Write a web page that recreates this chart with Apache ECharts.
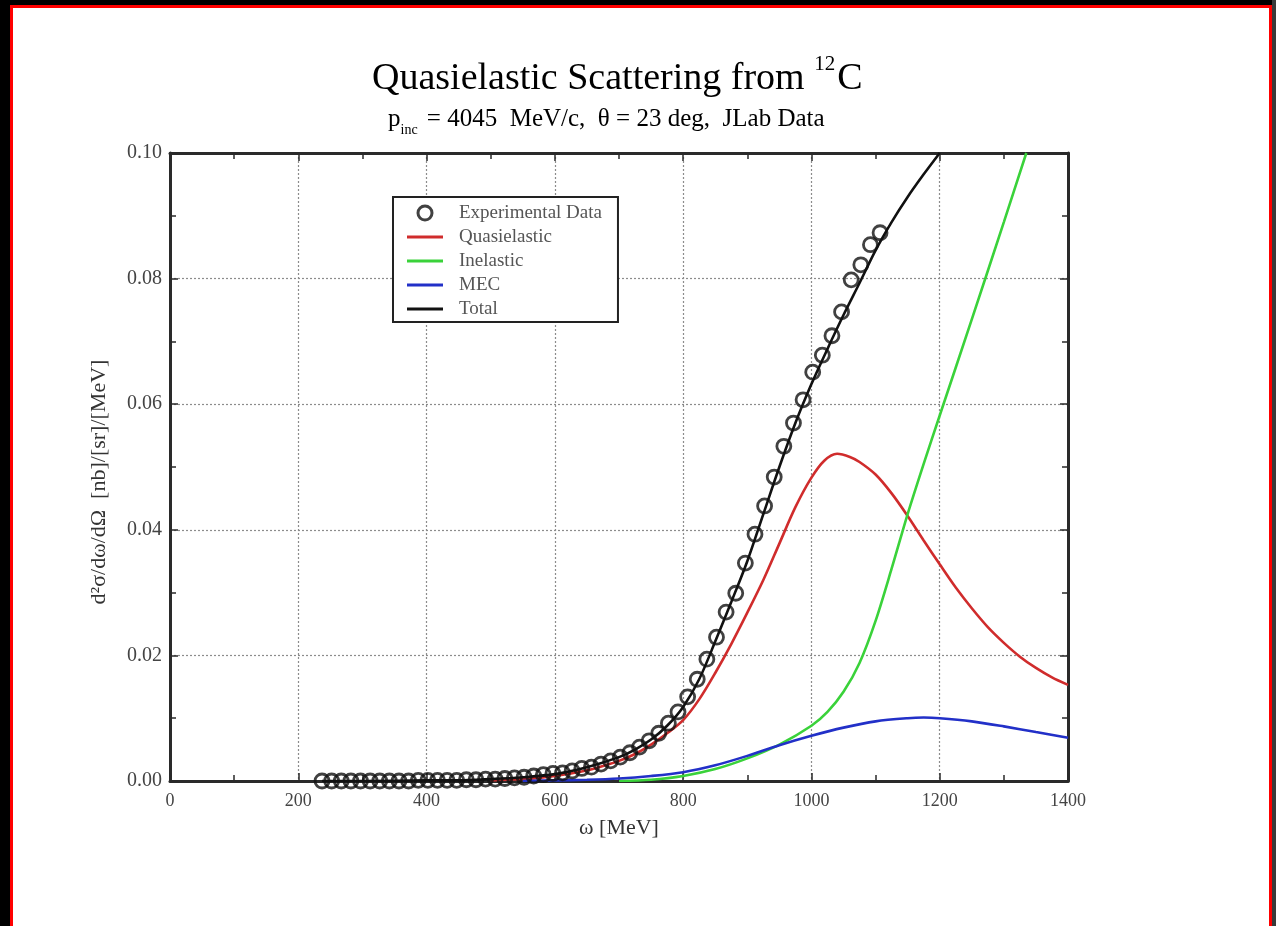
<!DOCTYPE html>
<html>
<head>
<meta charset="utf-8">
<script src="https://cdn.jsdelivr.net/npm/echarts@6/dist/echarts.min.js"></script>
<style>
html,body{margin:0;padding:0;background:#000;width:1276px;height:926px;overflow:hidden;}
#frame{position:absolute;left:10px;top:5px;width:1256px;height:918px;border:3px solid #ff0000;background:#fff;}
#strip{position:absolute;left:1272px;top:0;width:4px;height:926px;background:#3a3a3a;}
#chart{position:absolute;left:0;top:0;width:1276px;height:926px;}
</style>
</head>
<body>
<div id="frame"></div>
<div id="strip"></div>
<div id="chart"></div>
<script>
// ---- data ----
const expX = [237,252,267,282,297,312,327,342,357,372,387,402,417,432,447,462,477,492,507,522,537,552,567,582,597,612,627,642,657,672,687,702,717,732,747,762,777,792,807,822,837,852,867,882,897,912,927,942,957,972,987,1002,1017,1032,1047,1062,1077,1092,1107];
const expY = [0.0000,0.0000,0.0000,0.0000,0.0000,0.0000,0.0000,0.0000,0.0000,0.0000,0.0001,0.0001,0.0001,0.0001,0.0001,0.0002,0.0002,0.0003,0.0003,0.0004,0.0005,0.0006,0.0008,0.0010,0.0012,0.0013,0.0016,0.0020,0.0022,0.0027,0.0032,0.0038,0.0045,0.0054,0.0064,0.0076,0.0092,0.0110,0.0134,0.0162,0.0194,0.0229,0.0269,0.0299,0.0347,0.0393,0.0438,0.0484,0.0533,0.0570,0.0607,0.0651,0.0678,0.0709,0.0747,0.0798,0.0822,0.0854,0.0873];

const qeX = [500,525,550,575,600,625,650,675,700,725,750,775,800,825,850,875,900,925,950,975,1000,1020,1040,1060,1075,1100,1125,1150,1175,1200,1225,1250,1275,1300,1325,1350,1375,1400];
const qeY = [0.0001,0.0002,0.0003,0.0005,0.0008,0.0012,0.0017,0.0024,0.0032,0.0043,0.0058,0.0076,0.0097,0.0130,0.0172,0.0218,0.0268,0.0320,0.0378,0.0436,0.0483,0.0510,0.0521,0.0516,0.0508,0.0488,0.0458,0.0422,0.0383,0.0345,0.0308,0.0275,0.0245,0.0220,0.0198,0.0180,0.0165,0.0153];

const inelX = [700,750,800,850,900,950,1000,1025,1050,1075,1100,1125,1150,1175,1200,1250,1300,1335];
const inelY = [0.0000,0.0002,0.0008,0.0019,0.0036,0.0058,0.0088,0.0110,0.0142,0.0188,0.0255,0.0338,0.0425,0.0505,0.0582,0.0735,0.0890,0.1000];

const mecX = [550,600,650,700,750,800,850,900,950,1000,1050,1100,1150,1175,1200,1250,1300,1350,1400];
const mecY = [0.0000,0.0001,0.0002,0.0004,0.0008,0.0014,0.0025,0.0040,0.0057,0.0072,0.0085,0.0095,0.0100,0.0101,0.0100,0.0095,0.0087,0.0078,0.0069];

const totX = [237,300,400,450,500,550,600,650,700,725,750,775,800,825,850,875,900,925,950,975,1000,1025,1050,1075,1100,1125,1150,1175,1200];
const totY = [0.0000,0.0000,0.0001,0.0001,0.0003,0.0006,0.0011,0.0022,0.0038,0.0050,0.0066,0.0088,0.0118,0.0162,0.0222,0.0285,0.0350,0.0425,0.0500,0.0570,0.0632,0.0688,0.0742,0.0793,0.0845,0.0890,0.0930,0.0966,0.1000];

const xTicks = [0,200,400,600,800,1000,1200,1400];
const yTicks = [0.00,0.02,0.04,0.06,0.08,0.10];

const seriesNames = ['Experimental Data','Quasielastic','Inelastic','MEC','Total'];
const seriesColors = ['#111111','#d02c2c','#3ad23a','#2230c8','#111111'];
// ---------------------------------------

const zip = (xs, ys) => xs.map((x, i) => [x, ys[i]]);
const serif = '"Liberation Serif","DejaVu Serif",serif';
const lineIcon = 'path://M0,0L40,0L40,3.2L0,3.2Z';

const chart = echarts.init(document.getElementById('chart'), null, {renderer: 'canvas'});

const axisCommon = () => ({
  axisLine: {show: true, onZero: false, lineStyle: {color: '#2a2a2a', width: 3}},
  axisTick: {show: true, inside: true, length: 8, lineStyle: {color: '#2a2a2a', width: 1.5}},
  minorTick: {show: true, splitNumber: 2, length: 6, lineStyle: {color: '#2a2a2a', width: 1.5}},
});

const gridLine = {show: true, lineStyle: {color: '#8c8c8c', type: [2, 2], width: 1.2}};

const option = {
  backgroundColor: 'transparent',
  animation: false,
  graphic: [
    {type: 'text', left: 372, top: 54, z: 10,
     style: {
       text: '{a|Quasielastic Scattering from }{s|12}{a|C}',
       rich: {
         a: {fontFamily: serif, fontSize: 38, color: '#222', lineHeight: 44, verticalAlign: 'bottom'},
         s: {fontFamily: serif, fontSize: 21, color: '#222', lineHeight: 44, verticalAlign: 'top', padding: [0, 2, 18, 0]}
       }
     }},
    {type: 'text', left: 388, top: 107, z: 10,
     style: {
       text: '{a|p}{b|inc}{a| = 4045  MeV/c,  θ = 23 deg,  JLab Data}',
       rich: {
         a: {fontFamily: serif, fontSize: 25, color: '#222', lineHeight: 30, verticalAlign: 'top'},
         b: {fontFamily: serif, fontSize: 14, color: '#222', lineHeight: 30, verticalAlign: 'bottom', padding: [9, 3, 0, 0]}
       }
     }}
  ],
  legend: {
    show: true,
    orient: 'vertical',
    left: 393, top: 197,
    padding: [6, 16, 3, 14],
    itemGap: 4,
    itemWidth: 36,
    itemHeight: 14,
    symbolKeepAspect: true,
    borderColor: '#222',
    borderWidth: 2,
    backgroundColor: '#fff',
    textStyle: {fontFamily: serif, fontSize: 19, color: '#555', lineHeight: 20, padding: [0, 0, 0, 11]},
    data: [
      {name: seriesNames[0], icon: 'circle', itemStyle: {color: '#fff', borderColor: '#111', borderWidth: 3}},
      {name: seriesNames[1], icon: lineIcon, itemStyle: {color: seriesColors[1]}},
      {name: seriesNames[2], icon: lineIcon, itemStyle: {color: seriesColors[2]}},
      {name: seriesNames[3], icon: lineIcon, itemStyle: {color: seriesColors[3]}},
      {name: seriesNames[4], icon: lineIcon, itemStyle: {color: seriesColors[4]}}
    ]
  },
  grid: {left: 170, right: 208, top: 153, bottom: 145, containLabel: false, show: false},
  xAxis: [
    Object.assign({
      type: 'value', min: xTicks[0], max: xTicks[xTicks.length - 1], interval: xTicks[1] - xTicks[0],
      position: 'bottom',
      name: 'ω [MeV]', nameLocation: 'middle', nameGap: 36,
      nameTextStyle: {fontFamily: serif, fontSize: 22, color: '#333'},
      axisLabel: {fontFamily: serif, fontSize: 18, color: '#444', margin: 11,
                  formatter: v => String(v)},
      splitLine: gridLine,
    }, axisCommon()),
    Object.assign({
      type: 'value', min: xTicks[0], max: xTicks[xTicks.length - 1], interval: xTicks[1] - xTicks[0],
      position: 'top', axisLabel: {show: false}, splitLine: {show: false}
    }, axisCommon())
  ],
  yAxis: [
    Object.assign({
      type: 'value', min: yTicks[0], max: yTicks[yTicks.length - 1], interval: yTicks[1] - yTicks[0],
      position: 'left',
      name: 'd²σ/dω/dΩ  [nb]/[sr]/[MeV]', nameLocation: 'middle', nameGap: 60, nameRotate: 90,
      nameTextStyle: {fontFamily: serif, fontSize: 22, color: '#333', padding: [0, 30, 0, 0]},
      axisLabel: {fontFamily: serif, fontSize: 20, color: '#444', margin: 8,
                  formatter: v => v.toFixed(2)},
      splitLine: gridLine,
    }, axisCommon()),
    Object.assign({
      type: 'value', min: yTicks[0], max: yTicks[yTicks.length - 1], interval: yTicks[1] - yTicks[0],
      position: 'right', axisLabel: {show: false}, splitLine: {show: false}
    }, axisCommon())
  ],
  series: [
    {name: seriesNames[0], type: 'scatter', data: zip(expX, expY), symbol: 'circle', symbolSize: 14,
     itemStyle: {color: 'rgba(255,255,255,0)', borderColor: seriesColors[0], borderWidth: 2.8}, z: 3},
    {name: seriesNames[1], type: 'line', data: zip(qeX, qeY), smooth: 0.3, showSymbol: false, symbol: 'none',
     lineStyle: {color: seriesColors[1], width: 2.6}, itemStyle: {color: seriesColors[1]}, z: 2},
    {name: seriesNames[2], type: 'line', data: zip(inelX, inelY), smooth: 0.3, showSymbol: false, symbol: 'none',
     lineStyle: {color: seriesColors[2], width: 2.6}, itemStyle: {color: seriesColors[2]}, z: 2},
    {name: seriesNames[3], type: 'line', data: zip(mecX, mecY), smooth: 0.3, showSymbol: false, symbol: 'none',
     lineStyle: {color: seriesColors[3], width: 2.6}, itemStyle: {color: seriesColors[3]}, z: 2},
    {name: seriesNames[4], type: 'line', data: zip(totX, totY), smooth: 0.3, showSymbol: false, symbol: 'none',
     lineStyle: {color: seriesColors[4], width: 2.6}, itemStyle: {color: seriesColors[4]}, z: 4}
  ]
};
chart.setOption(option);
</script>
</body>
</html>
